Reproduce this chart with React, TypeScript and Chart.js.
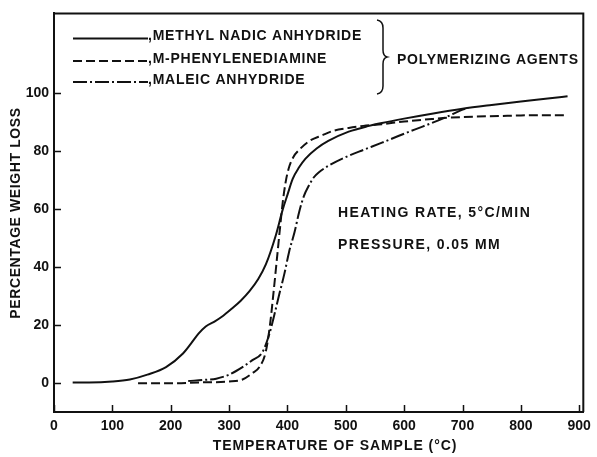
import React, { useEffect, useRef } from "react";
import { Chart, registerables } from "chart.js";
Chart.register(...registerables);

// Methyl nadic anhydride (solid)
const methylTemp = [32, 60, 100, 130, 160, 192, 221, 235, 248, 260, 275, 290, 305, 320, 335, 350, 363, 380, 392, 400, 409, 420, 431, 450, 470, 505, 540, 562, 600, 650, 700, 750, 800, 850, 880];
const methylLoss = [0.3, 0.3, 0.6, 1.3, 3, 5.6, 10.3, 13.8, 17.2, 19.6, 21.3, 23.3, 25.8, 28.5, 31.8, 36, 41, 51, 60, 65, 70.5, 74.5, 77.5, 81, 83.6, 86.8, 88.8, 89.8, 91.3, 93.1, 94.7, 96, 97.2, 98.3, 99];

// M-phenylenediamine (dashed)
const mpdTemp = [144, 200, 250, 300, 323, 340, 352, 363, 370, 376, 383, 388, 392, 397, 402, 410, 420, 437, 460, 477, 505, 530, 562, 600, 650, 676, 720, 762, 800, 850, 880];
const mpdLoss = [0, 0, 0.3, 0.6, 1.3, 3.5, 5.6, 11, 20, 31, 45, 55, 62.5, 69.5, 74, 78, 80.5, 83.5, 85.6, 87, 88.1, 88.8, 89.4, 90.3, 91.2, 91.6, 92, 92.2, 92.4, 92.5, 92.5];

// Maleic anhydride (dash-dot)
const maleicTemp = [230, 260, 278, 300, 323, 340, 357, 369, 378, 386, 395, 403, 412, 420, 428, 437, 445, 454, 470, 505, 530, 562, 590, 619, 650, 676, 695, 710];
const maleicLoss = [0.8, 1.2, 1.6, 3, 5.6, 8, 10.7, 17, 24, 30.7, 38, 45.5, 52, 59, 64.5, 68.3, 71, 72.8, 75, 78.5, 80.5, 83, 85.3, 87.6, 90, 92.2, 94, 95];

const xTickValues = [0, 100, 200, 300, 400, 500, 600, 700, 800, 900];
const yTickValues = [0, 20, 40, 60, 80, 100];

const legendNames = [",METHYL NADIC ANHYDRIDE", ",M-PHENYLENEDIAMINE", ",MALEIC ANHYDRIDE"];
const groupLabel = "POLYMERIZING AGENTS";
const noteLines = ["HEATING RATE, 5°C/MIN", "PRESSURE, 0.05 MM"];
const xTitle = "TEMPERATURE OF SAMPLE (°C)";
const yTitle = "PERCENTAGE WEIGHT LOSS";

const INK = "#111";
const FAMILY = "'Liberation Sans', Arial, sans-serif";
const DASHES: number[][] = [[], [9, 4], [14, 3, 2, 3]];

export default function App() {
  const ref = useRef<HTMLCanvasElement>(null);
  useEffect(() => {
    const pts = (xs: number[], ys: number[]) => xs.map((x, i) => ({ x, y: ys[i] }));
    const spaced = (ctx: any, text: string, x: number, y: number, sp: number) => {
      ctx.letterSpacing = `${sp}px`;
      ctx.fillText(text, x, y);
      ctx.letterSpacing = "0px";
    };
    const overlay = {
      id: "overlay",
      afterDraw(chart: any) {
        const ctx = chart.ctx as CanvasRenderingContext2D;
        const ca = chart.chartArea;
        const xs = chart.scales.x;
        const ys = chart.scales.y;
        ctx.save();
        ctx.strokeStyle = INK;
        ctx.fillStyle = INK;
        // frame top/right
        ctx.lineWidth = 2;
        ctx.beginPath();
        ctx.moveTo(ca.left, ca.top);
        ctx.lineTo(ca.right, ca.top);
        ctx.lineTo(ca.right, ca.bottom);
        ctx.stroke();
        // inward ticks
        ctx.lineWidth = 1.5;
        ctx.beginPath();
        for (const v of yTickValues) {
          const y = Math.round(ys.getPixelForValue(v)) + 0.5;
          ctx.moveTo(ca.left, y);
          ctx.lineTo(ca.left + 7, y);
        }
        for (const v of xTickValues) {
          const x = Math.round(xs.getPixelForValue(v)) + 0.5;
          ctx.moveTo(x, ca.bottom);
          ctx.lineTo(x, ca.bottom - 7);
        }
        ctx.stroke();
        ctx.font = `bold 14px ${FAMILY}`;
        ctx.textBaseline = "middle";
        // axis titles
        ctx.textAlign = "left";
        const xw = ctx.measureText(xTitle).width + xTitle.length * 0.95;
        spaced(ctx, xTitle, 335 - xw / 2, 446, 0.95);
        ctx.save();
        ctx.translate(16, 213);
        ctx.rotate(-Math.PI / 2);
        const yw = ctx.measureText(yTitle).width + yTitle.length * 0.6;
        spaced(ctx, yTitle, -yw / 2, 0, 0.6);
        ctx.restore();
        // legend
        const rows = [36.5, 59, 80];
        rows.forEach((y, i) => {
          ctx.lineWidth = 2;
          ctx.setLineDash(DASHES[i]);
          ctx.beginPath();
          ctx.moveTo(73, y + 2);
          ctx.lineTo(148, y + 2);
          ctx.stroke();
          ctx.setLineDash([]);
          spaced(ctx, legendNames[i], 148, y, 0.75);
        });
        // brace
        ctx.lineWidth = 1.5;
        ctx.beginPath();
        ctx.moveTo(377, 20);
        ctx.quadraticCurveTo(383, 21, 383, 28);
        ctx.lineTo(383, 50);
        ctx.quadraticCurveTo(383, 56, 387, 57);
        ctx.quadraticCurveTo(383, 58, 383, 64);
        ctx.lineTo(383, 86);
        ctx.quadraticCurveTo(383, 93, 377, 94);
        ctx.stroke();
        spaced(ctx, groupLabel, 397, 60, 0.75);
        // notes
        spaced(ctx, noteLines[0], 338, 213, 1.4);
        spaced(ctx, noteLines[1], 338, 245, 1.4);
        ctx.restore();
      },
    };
    const font = { family: FAMILY, size: 14, weight: "bold" as const };
    const chart = new Chart(ref.current as HTMLCanvasElement, {
      type: "line",
      data: {
        datasets: [
          { label: "Methyl nadic anhydride", data: pts(methylTemp, methylLoss), borderDash: DASHES[0] },
          { label: "M-phenylenediamine", data: pts(mpdTemp, mpdLoss), borderDash: DASHES[1] },
          { label: "Maleic anhydride", data: pts(maleicTemp, maleicLoss), borderDash: DASHES[2] },
        ].map((d) => ({
          ...d,
          borderColor: INK,
          borderWidth: 2,
          pointRadius: 0,
          fill: false,
          cubicInterpolationMode: "monotone" as const,
        })),
      },
      options: {
        responsive: false,
        maintainAspectRatio: false,
        animation: false,
        layout: { padding: { left: 0, top: 10, right: 12, bottom: 0 } },
        plugins: { legend: { display: false }, tooltip: { enabled: false } },
        scales: {
          x: {
            type: "linear",
            min: 0,
            max: 907,
            afterBuildTicks: (s: any) => {
              s.ticks = xTickValues.map((v) => ({ value: v }));
            },
            afterFit: (s: any) => {
              s.height = 45;
            },
            grid: { display: false, drawTicks: false },
            border: { display: true, color: INK, width: 2 },
            ticks: { color: INK, font, padding: 6, maxRotation: 0, autoSkip: false },
            title: { display: false },
          },
          y: {
            type: "linear",
            min: -9.9,
            max: 127.6,
            afterBuildTicks: (s: any) => {
              s.ticks = yTickValues.map((v) => ({ value: v }));
            },
            afterFit: (s: any) => {
              s.width = 54;
            },
            grid: { display: false, drawTicks: false },
            border: { display: true, color: INK, width: 2 },
            ticks: { color: INK, font, padding: 5, autoSkip: false },
            title: { display: false },
          },
        },
      },
      plugins: [overlay],
    });
    return () => chart.destroy();
  }, []);
  return (
    <div style={{ position: "fixed", left: 0, top: 0, width: 597, height: 457, background: "#fff" }}>
      <canvas ref={ref} width={597} height={457} style={{ width: 597, height: 457, display: "block" }} />
    </div>
  );
}
